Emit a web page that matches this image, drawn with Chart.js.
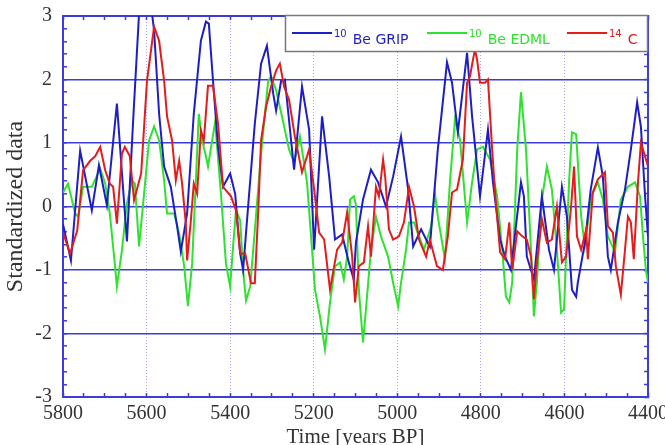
<!DOCTYPE html>
<html>
<head>
<meta charset="utf-8">
<title>Standardized data</title>
<script src="https://cdn.jsdelivr.net/npm/chart.js@4.4.1/dist/chart.umd.min.js"></script>
<style>
  html,body{margin:0;padding:0;background:#fff;}
  #wrap{width:665px;height:445px;}
</style>
</head>
<body>
<div id="wrap"><canvas id="chart" width="665" height="445"></canvas></div>
<script>
/* ---------- data ---------- */
const xLabels = [5800,5600,5400,5200,5000,4800,4600,4400];
const yLabels = [-3,-2,-1,0,1,2,3];
const seriesNames = ['Be GRIP','Be EDML','C'];
const seriesIsotopes = ['10','10','14'];

const gripYears = [5800,5781,5759,5731,5714,5695,5671,5647,5632,5618,5601,5587,5582,5570,5558,5542,5527,5518,5503,5487,5470,5458,5451,5441,5429,5417,5400,5388,5376,5369,5357,5341,5326,5312,5297,5290,5278,5269,5247,5228,5211,5199,5180,5163,5149,5132,5116,5104,5099,5082,5063,5046,5027,5010,4991,4974,4962,4943,4927,4922,4903,4881,4869,4855,4833,4821,4802,4783,4771,4754,4742,4728,4704,4697,4690,4673,4654,4637,4625,4606,4594,4582,4572,4568,4551,4537,4520,4508,4496,4489,4472,4455,4441,4426,4417,4407,4400];
const gripValues = [-0.28,-0.85,0.88,-0.06,0.65,0.02,1.62,-0.55,1.37,3.04,3.3,3.04,2.77,1.46,0.63,0.31,-0.31,-0.71,-0.11,1.46,2.61,2.91,2.88,1.98,0.94,0.31,0.52,0.2,-0.74,-1.0,0,1.3,2.25,2.53,1.78,1.51,1.98,2.0,0.58,1.89,1.21,-0.68,1.42,0.47,-0.52,-0.44,-0.88,-1.15,-0.57,0.11,0.58,0.38,0,0.47,1.1,0.27,-0.63,-0.36,-0.57,-0.63,0.9,2.27,1.95,1.17,2.42,1.42,0.16,1.21,0.38,-0.52,-0.79,-1.0,0.38,0.16,-0.79,-1.15,0.16,-0.68,-1.0,0.31,-0.16,-1.31,-1.42,-1.2,-0.57,0.27,0.93,0.47,-0.79,-1.0,-0.25,0.27,0.9,1.64,1.26,0.16,-0.47];

const edmlYears = [5800,5788,5771,5764,5752,5731,5711,5699,5688,5676,5671,5659,5647,5635,5628,5618,5606,5594,5582,5570,5558,5551,5534,5522,5510,5501,5491,5482,5475,5467,5458,5453,5436,5422,5410,5400,5393,5386,5376,5369,5362,5352,5341,5326,5309,5302,5290,5276,5259,5247,5233,5216,5204,5197,5185,5173,5161,5149,5137,5128,5120,5113,5104,5099,5092,5082,5075,5063,5051,5039,5022,5010,4998,4991,4979,4972,4960,4948,4936,4919,4910,4903,4886,4874,4862,4850,4833,4821,4809,4795,4778,4761,4749,4740,4732,4725,4713,4704,4692,4680,4673,4666,4654,4642,4630,4618,4608,4601,4589,4582,4572,4565,4560,4551,4536,4520,4508,4496,4479,4465,4448,4431,4419,4412,4405,4400];
const edmlValues = [0.22,0.36,-0.11,-0.16,0.31,0.31,0.6,0.36,-0.11,-0.9,-1.26,-0.69,0.05,0.41,0.36,-0.63,0.2,1.04,1.26,1.04,0.41,-0.11,-0.11,-0.43,-0.94,-1.57,-0.9,0.41,1.46,1.04,0.79,0.63,1.33,0.2,-0.9,-1.26,-0.63,-0.06,-0.22,-1.0,-1.48,-1.26,-0.38,0.83,1.98,2.05,1.83,1.42,0.9,0.69,1.1,0.38,-0.68,-1.31,-1.73,-2.25,-1.51,-0.94,-0.88,-1.15,-0.79,0.11,0.16,0.03,-1.31,-2.14,-1.62,-0.68,-0.16,-0.47,-0.79,-1.2,-1.57,-1.2,-0.68,-0.25,-0.25,-0.47,-0.68,-0.31,0.22,-0.16,-0.83,0.38,1.37,1.06,-0.25,0.38,0.9,0.94,0.74,0.16,-0.68,-1.42,-1.51,-1.2,0.9,1.8,0.9,-0.68,-1.73,-1.2,0.11,0.63,0.27,-0.68,-1.67,-1.62,0.38,1.17,1.14,0.38,-0.16,-0.63,0.16,0.38,0.11,-0.47,-0.72,0.11,0.31,0.38,0.16,-0.47,-1.0,-1.2];

const c14Years = [5800,5783,5766,5752,5735,5723,5711,5699,5688,5680,5671,5659,5652,5640,5630,5613,5599,5582,5570,5558,5551,5539,5530,5522,5515,5506,5503,5494,5487,5479,5470,5463,5453,5441,5429,5417,5398,5386,5376,5364,5350,5341,5333,5326,5314,5302,5290,5281,5271,5259,5245,5228,5211,5199,5187,5175,5161,5144,5132,5120,5108,5101,5092,5080,5070,5063,5051,5044,5034,5029,5020,5010,4996,4984,4972,4960,4948,4931,4922,4905,4891,4879,4869,4857,4843,4833,4826,4819,4814,4809,4802,4790,4783,4773,4766,4754,4742,4732,4725,4713,4701,4690,4680,4673,4666,4654,4642,4630,4618,4606,4596,4584,4577,4570,4560,4548,4544,4532,4520,4503,4496,4484,4477,4465,4455,4448,4441,4434,4424,4417,4407,4400];
const c14Values = [-0.41,-0.74,-0.38,0.57,0.72,0.79,0.94,0.57,0.36,0.31,-0.27,0.83,0.94,0.79,0.1,0.52,1.98,2.83,2.61,1.98,1.42,1.04,0.41,0.72,0.36,-0.27,-0.85,-0.22,0.36,0.2,1.2,1.04,1.9,1.9,1.3,0.31,0.16,-0.06,-0.74,-0.74,-1.21,-1.21,-0.11,1.04,1.57,1.89,2.14,2.25,1.89,1.68,1.1,0.54,0.9,0.27,-0.41,-0.52,-1.31,-0.68,-0.57,-0.09,-0.79,-1.51,-0.94,-0.88,-0.31,-0.79,0.31,0.16,0.74,0.47,-0.36,-0.52,-0.47,-0.25,0.31,0,-0.52,-0.79,-0.52,-0.94,-1.0,-0.47,0.22,0.27,0.74,1.95,2.05,2.31,2.47,2.31,1.95,1.95,2.0,0.9,0.22,-0.72,-0.83,-0.25,-1.0,-0.39,-0.47,-0.52,-0.79,-1.46,-0.88,-0.2,-0.57,-0.52,0,-0.88,-0.79,0,0.63,-0.47,-0.68,-0.36,-0.83,0.22,0.43,0.54,-0.31,-0.41,-0.94,-1.39,-0.68,-0.16,-0.25,-0.83,0.38,1.0,0.79,0.63];

/* ---------- styling ---------- */
const COL_GRIP = '#1e1ec8';
const COL_EDML = '#2fe22f';
const COL_C14  = '#e41c1c';
const AXIS_BLUE = '#3c3cdc';
const seriesColors = [COL_GRIP, COL_EDML, COL_C14];
const SERIF = '"Liberation Serif", "Times New Roman", serif';

const toPoints = (xs, ys) => xs.map((x, i) => ({ x, y: ys[i] }));
const isInt = v => Math.abs(v - Math.round(v)) < 1e-6;

function noPad(scale){ scale.paddingLeft = 0; scale.paddingRight = 0; scale.paddingTop = 0; scale.paddingBottom = 0; }

const legendBox = {
  id: 'legendBox',
  afterDraw(chart){
    const c = chart.ctx;
    c.save();
    c.fillStyle = '#fff';
    c.fillRect(285, 15, 363, 37);
    c.strokeStyle = '#7a7a7a';
    c.lineWidth = 1.5;
    c.strokeRect(285.5, 15.5, 362, 36);
    const starts = [292, 427, 567];
    seriesNames.forEach((name, i) => {
      const x = starts[i];
      c.strokeStyle = seriesColors[i];
      c.lineWidth = 2;
      c.beginPath(); c.moveTo(x, 33); c.lineTo(x + 40, 33); c.stroke();
      c.fillStyle = seriesColors[i];
      c.textBaseline = 'alphabetic';
      c.font = '10px "DejaVu Sans", sans-serif';
      c.fillText(seriesIsotopes[i], x + 42, 37);
      const sw = c.measureText(seriesIsotopes[i]).width;
      c.font = '14px "DejaVu Sans", sans-serif';
      c.fillText(name, x + 42 + sw + 6, 44);
    });
    c.restore();
  }
};

const xCommon = { type:'linear', min:4400, max:5800, reverse:true };
const yCommon = { type:'linear', min:-3, max:3 };

new Chart(document.getElementById('chart'), {
  type: 'line',
  data: {
    datasets: [
      { label:'10Be GRIP', data: toPoints(gripYears, gripValues), borderColor: COL_GRIP, order: 2 },
      { label:'10Be EDML', data: toPoints(edmlYears, edmlValues), borderColor: COL_EDML, order: 3 },
      { label:'14C', data: toPoints(c14Years, c14Values), borderColor: COL_C14, order: 1 }
    ]
  },
  options: {
    responsive: false,
    animation: false,
    devicePixelRatio: 1,
    layout: { padding: { left:0, right:17, top:16, bottom:0 } },
    elements: {
      line: { borderWidth: 2, tension: 0, fill: false },
      point: { radius: 0, hoverRadius: 0 }
    },
    plugins: { legend:{ display:false }, tooltip:{ enabled:false } },
    scales: {
      x: {
        ...xCommon,
        position: 'bottom',
        afterFit(s){ s.height = 48; noPad(s); },
        ticks: {
          stepSize: 50, autoSkip: false, maxRotation: 0, padding: 9,
          color: '#333', font: { family: SERIF, size: 20 },
          callback: v => xLabels.includes(v) ? String(v) : ''
        },
        grid: {
          color: ctx => (ctx.tick && xLabels.includes(ctx.tick.value) && ctx.tick.value !== 5800 && ctx.tick.value !== 4400) ? 'rgba(130,130,255,0.7)' : 'rgba(0,0,0,0)',
          lineWidth: 1,
          tickLength: -4, tickColor: AXIS_BLUE, tickWidth: 1.5
        },
        border: { display: true, color: AXIS_BLUE, width: 2, dash: ctx => ctx.tick ? [1,2] : [] },
        title: { display: true, text: 'Time [years BP]', color: '#333', font: { family: SERIF, size: 21 }, padding: { top: 0, bottom: -5 } }
      },
      x2: {
        ...xCommon,
        position: 'top',
        afterFit(s){ s.height = 0; noPad(s); },
        ticks: { display: false, stepSize: 50, autoSkip: false },
        grid: { drawOnChartArea: false, tickLength: -4, tickColor: AXIS_BLUE, tickWidth: 1.5 },
        border: { display: true, color: AXIS_BLUE, width: 2 }
      },
      y: {
        ...yCommon,
        position: 'left',
        afterFit(s){ s.width = 63; noPad(s); },
        ticks: {
          stepSize: 0.2, autoSkip: false, padding: 15,
          color: '#333', font: { family: SERIF, size: 20 },
          callback: v => (isInt(v) && yLabels.includes(Math.round(v))) ? String(Math.round(v)) : ''
        },
        grid: {
          color: ctx => (ctx.tick && isInt(ctx.tick.value)) ? AXIS_BLUE : 'rgba(0,0,0,0)',
          lineWidth: 1.6,
          tickLength: -4, tickColor: AXIS_BLUE, tickWidth: 1.5
        },
        border: { display: true, color: AXIS_BLUE, width: 2 },
        title: { display: true, text: 'Standardized data', color: '#333', font: { family: SERIF, size: 24 }, padding: { top: 1, bottom: 0 } }
      },
      y2: {
        ...yCommon,
        position: 'right',
        afterFit(s){ s.width = 0; noPad(s); },
        ticks: { display: false, stepSize: 0.2, autoSkip: false },
        grid: { drawOnChartArea: false, tickLength: -4, tickColor: AXIS_BLUE, tickWidth: 1.5 },
        border: { display: true, color: AXIS_BLUE, width: 2 }
      }
    }
  },
  plugins: [legendBox]
});
</script>
</body>
</html>
